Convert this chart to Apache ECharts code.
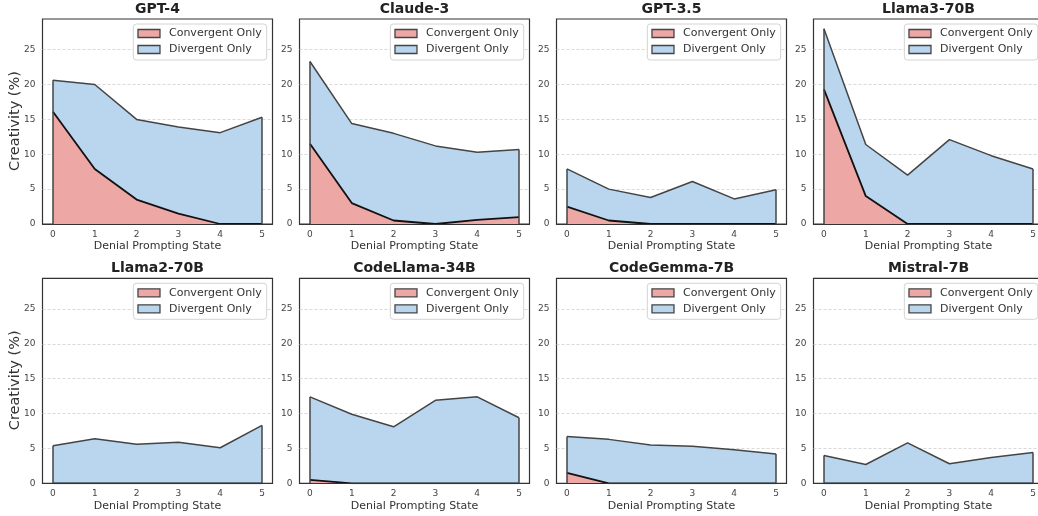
<!DOCTYPE html>
<html>
<head>
<meta charset="utf-8">
<script src="https://cdn.jsdelivr.net/npm/echarts@6/dist/echarts.min.js"></script>
<style>
html,body{margin:0;padding:0;background:#fff;}
#c{width:1038px;height:516px;}
</style>
</head>
<body>
<div id="c"></div>
<script>
// ---- Data ----
const models = ['GPT-4', 'Claude-3', 'GPT-3.5', 'Llama3-70B', 'Llama2-70B', 'CodeLlama-34B', 'CodeGemma-7B', 'Mistral-7B'];
const states = [0, 1, 2, 3, 4, 5];
const yTicks = [0, 5, 10, 15, 20, 25];
const convGPT4      = [16.1, 7.9, 3.5, 1.5, 0, 0];
const divGPT4       = [4.5, 12.1, 11.5, 12.4, 13.1, 15.3];
const convClaude3   = [11.5, 3.0, 0.5, 0, 0.6, 1.0];
const divClaude3    = [11.8, 11.4, 12.5, 11.2, 9.7, 9.7];
const convGPT35     = [2.5, 0.5, 0, 0, 0, 0];
const divGPT35      = [5.4, 4.5, 3.8, 6.1, 3.6, 4.9];
const convLlama3    = [19.3, 4.0, 0, 0, 0, 0];
const divLlama3     = [8.7, 7.4, 7.0, 12.1, 9.8, 7.9];
const convLlama2    = [0, 0, 0, 0, 0, 0];
const divLlama2     = [5.4, 6.4, 5.6, 5.9, 5.1, 8.3];
const convCodeLlama = [0.5, 0, 0, 0, 0, 0];
const divCodeLlama  = [11.9, 9.9, 8.1, 11.9, 12.4, 9.4];
const convCodeGemma = [1.5, 0, 0, 0, 0, 0];
const divCodeGemma  = [5.2, 6.3, 5.5, 5.3, 4.8, 4.2];
const convMistral   = [0, 0, 0, 0, 0, 0];
const divMistral    = [4.0, 2.7, 5.8, 2.8, 3.7, 4.4];
const seriesNames = ['Convergent Only', 'Divergent Only'];
const xAxisTitle = 'Denial Prompting State';
const yAxisTitle = 'Creativity (%)';

const convAll = [convGPT4, convClaude3, convGPT35, convLlama3, convLlama2, convCodeLlama, convCodeGemma, convMistral];
const divAll  = [divGPT4, divClaude3, divGPT35, divLlama3, divLlama2, divCodeLlama, divCodeGemma, divMistral];

// ---- Layout / style ----
const W = 1038;
const FONT = 'DejaVu Sans';
const lefts = [42.5, 299.5, 556.5, 813.5];
const tops = [19, 278.3];
const PW = 230, PH = 205;
const RED = '#EDA8A6', BLUE = '#B9D6EE';
const YMAX = 29.4;

const grids = [], xAxes = [], yAxes = [], series = [], legends = [], graphics = [];

models.forEach((name, i) => {
  const col = i % 4, row = Math.floor(i / 4);
  const L = lefts[col], T = tops[row];
  grids.push({left: L, top: T, width: PW, height: PH, show: true, borderColor: '#333', borderWidth: 1.2,
    backgroundColor: 'transparent', containLabel: false, outerBoundsMode: 'none'});
  xAxes.push({
    type: 'value', gridIndex: i, min: -0.25, max: 5.25, interval: 0.25, z: 5,
    axisLine: {show: true, onZero: false, lineStyle: {color: '#333', width: 1.2}},
    axisTick: {show: false}, splitLine: {show: false},
    axisLabel: {fontFamily: FONT, fontSize: 9, color: '#444', margin: 6,
      formatter: v => (Math.abs(v - Math.round(v)) < 1e-6 && states.includes(Math.round(v))) ? String(Math.round(v)) : ''}
  });
  yAxes.push({
    type: 'value', gridIndex: i, min: 0, max: YMAX, interval: 5,
    axisLine: {show: false}, axisTick: {show: false},
    splitLine: {show: true, showMaxLine: false, showMinLine: false, lineStyle: {color: '#cfcfcf', width: 0.8, type: [3, 2]}},
    axisLabel: {fontFamily: FONT, fontSize: 9, color: '#444', margin: 7,
      formatter: v => yTicks.includes(Math.round(v * 1000) / 1000) ? String(v) : ''}
  });
  const conv = convAll[i], div = divAll[i];
  const total = conv.map((c, k) => +(c + div[k]).toFixed(3));
  // divergent (stacked on top of convergent) -> drawn as cumulative total
  series.push({
    name: seriesNames[1], type: 'line', xAxisIndex: i, yAxisIndex: i,
    data: states.map((s, k) => [s, total[k]]),
    symbol: 'none', z: 2,
    color: BLUE,
    lineStyle: {color: '#444', width: 1.5},
    areaStyle: {color: BLUE, opacity: 1},
    itemStyle: {color: BLUE},
    markLine: {
      silent: true, symbol: ['none', 'none'], animation: false,
      label: {show: false},
      lineStyle: {color: '#444', width: 1.5, type: 'solid'},
      data: [
        [{coord: [states[0], 0]}, {coord: [states[0], total[0]]}],
        [{coord: [states[5], 0]}, {coord: [states[5], total[5]]}]
      ]
    },
    animation: false
  });
  series.push({
    name: seriesNames[0], type: 'line', xAxisIndex: i, yAxisIndex: i,
    data: states.map((s, k) => [s, conv[k]]),
    symbol: 'none', z: 3,
    color: RED,
    lineStyle: {color: '#111', width: 1.8},
    areaStyle: {color: RED, opacity: 1},
    itemStyle: {color: RED},
    animation: false
  });
  legends.push({
    orient: 'vertical', right: W - (L + PW - 5.8), top: T + 5,
    selectedMode: false, icon: 'rect', itemWidth: 22, itemHeight: 8, itemGap: 5,
    padding: [4, 5, 5, 4],
    backgroundColor: '#fff', borderColor: '#d4d4d4', borderWidth: 1, borderRadius: 3,
    textStyle: {fontFamily: FONT, fontSize: 11, color: '#333', padding: [0, 0, 0, 4]},
    data: [
      {name: seriesNames[0], itemStyle: {color: RED, borderColor: '#444', borderWidth: 1.3}},
      {name: seriesNames[1], itemStyle: {color: BLUE, borderColor: '#444', borderWidth: 1.3}}
    ]
  });
  graphics.push({type: 'text', x: L + PW / 2, y: T - 9.5, silent: true,
    style: {text: name, font: 'bold 14px "DejaVu Sans"', fill: '#222', textAlign: 'center', textVerticalAlign: 'middle'}});
  graphics.push({type: 'text', x: L + PW / 2, y: T + PH + 22.5, silent: true,
    style: {text: xAxisTitle, font: '11px "DejaVu Sans"', fill: '#333', textAlign: 'center', textVerticalAlign: 'middle'}});
  if (col === 0) {
    graphics.push({type: 'text', x: 15.5, y: T + PH / 2 - 0.5, rotation: Math.PI / 2, silent: true,
      style: {text: yAxisTitle, font: '14.5px "DejaVu Sans"', fill: '#333', textAlign: 'center', textVerticalAlign: 'middle'}});
  }
});

const chart = echarts.init(document.getElementById('c'), null, {renderer: 'canvas'});
chart.setOption({
  animation: false,
  backgroundColor: '#fff',
  grid: grids, xAxis: xAxes, yAxis: yAxes, series: series, legend: legends,
  graphic: graphics
});
</script>
</body>
</html>
